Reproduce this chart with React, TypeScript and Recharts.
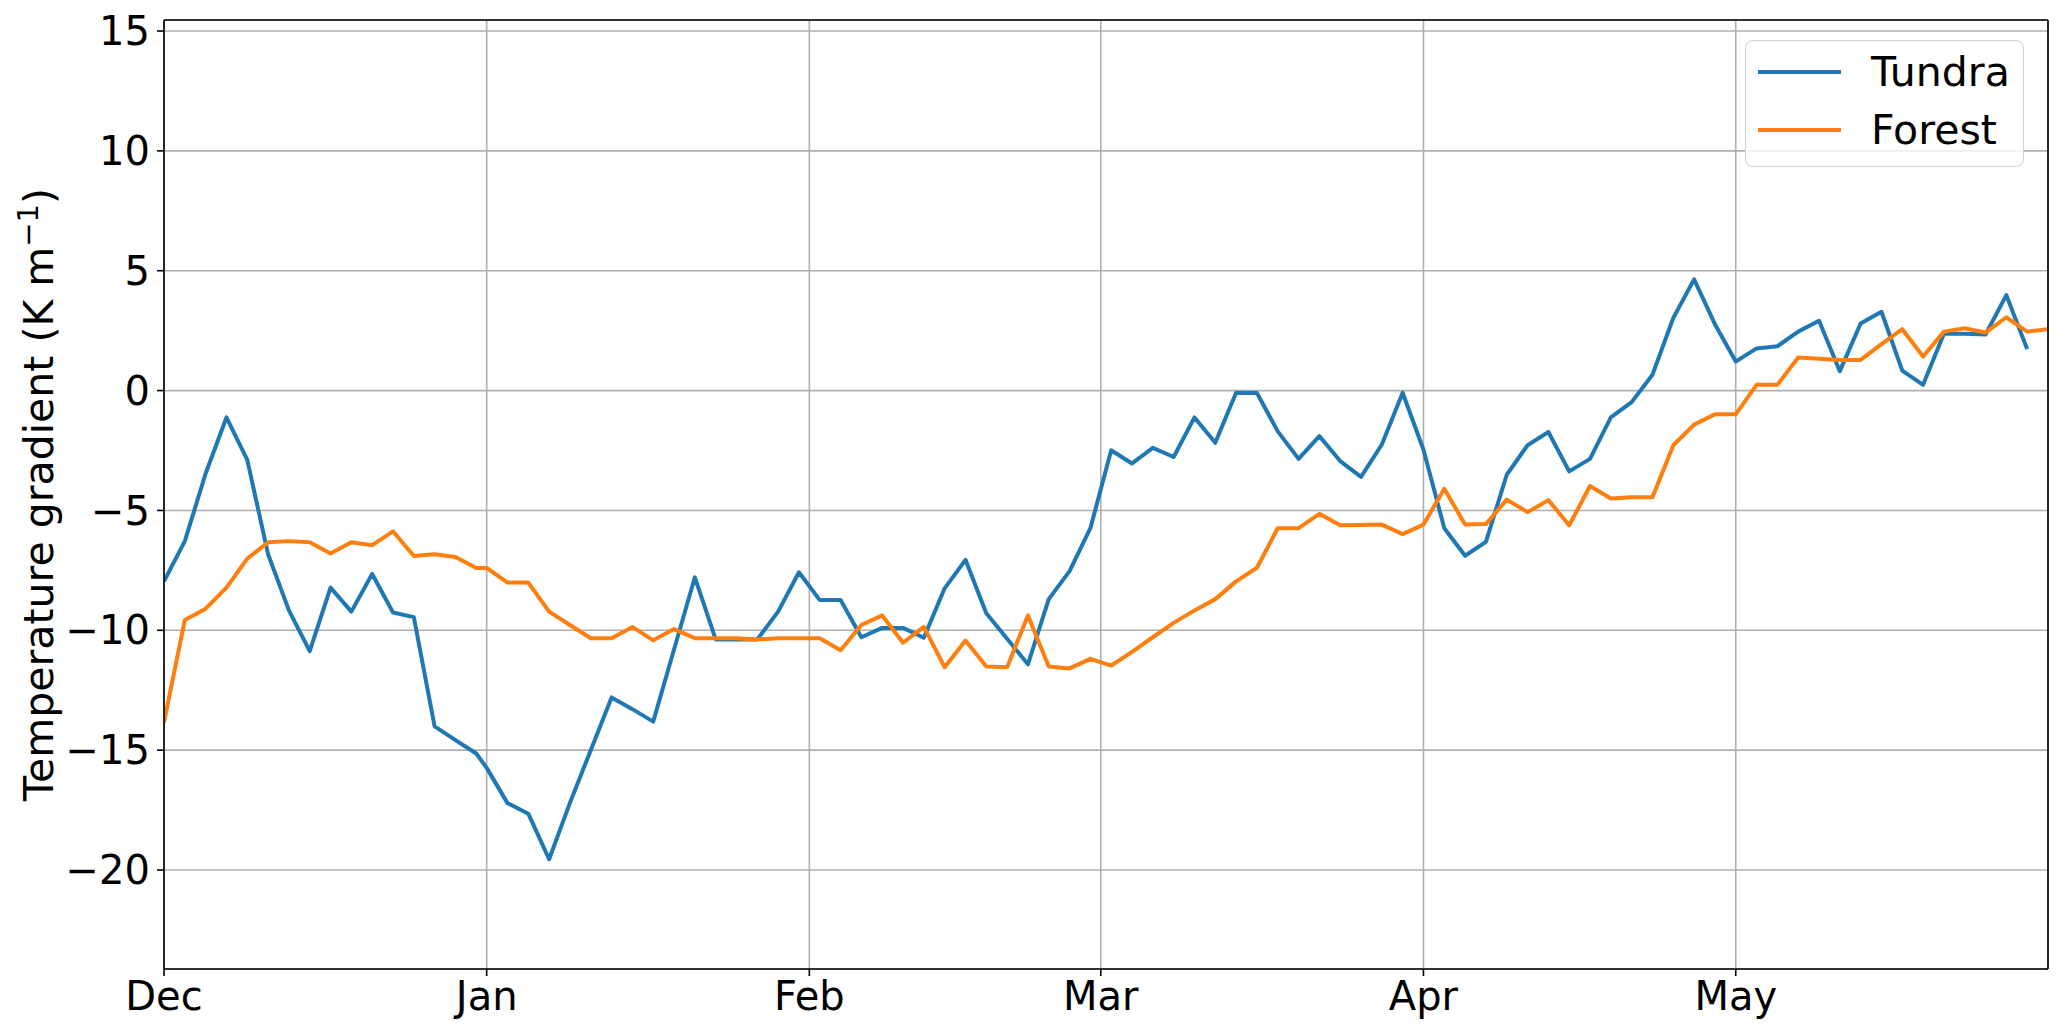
import React from 'react';
import { LineChart, Line, XAxis, YAxis, CartesianGrid, Legend, ReferenceLine } from 'recharts';

// days since 1 Dec (every other day-of-year, so 31 Dec and 1 Jan both appear)
const days = [
  0, 2, 4, 6, 8, 10, 12, 14, 16, 18, 20, 22, 24, 26, 28, 30,
  31, 33, 35, 37, 39, 41, 43, 45, 47, 49, 51, 53, 55, 57, 59, 61,
  63, 65, 67, 69, 71, 73, 75, 77, 79, 81, 83, 85, 87, 89,
  91, 93, 95, 97, 99, 101, 103, 105, 107, 109, 111, 113, 115, 117, 119,
  121, 123, 125, 127, 129, 131, 133, 135, 137, 139, 141, 143, 145, 147, 149,
  151, 153, 155, 157, 159, 161, 163, 165, 167, 169, 171, 173, 175, 177, 179, 181,
];

const tundra = [
  -7.96, -6.28, -3.46, -1.12, -2.89, -6.83, -9.17, -10.87, -8.22, -9.22, -7.65, -9.26, -9.45, -14.01, -14.58, -15.14,
  -15.74, -17.21, -17.65, -19.55, -17.2, -15.0, -12.8, -13.29, -13.81, -10.8, -7.79, -10.38, -10.38, -10.38, -9.22, -7.58,
  -8.74, -8.74, -10.29, -9.9, -9.9, -10.31, -8.25, -7.06, -9.29, -10.35, -11.42, -8.7, -7.53, -5.74,
  -2.49, -3.04, -2.39, -2.77, -1.12, -2.18, -0.09, -0.1, -1.7, -2.85, -1.9, -2.94, -3.6, -2.25, -0.09,
  -2.47, -5.74, -6.89, -6.31, -3.51, -2.28, -1.73, -3.37, -2.85, -1.12, -0.48, 0.66, 3.03, 4.64, 2.77,
  1.21, 1.76, 1.85, 2.46, 2.91, 0.81, 2.8, 3.29, 0.83, 0.24, 2.37, 2.37, 2.34, 3.98, 1.73, null,
];

const forest = [
  -13.84, -9.57, -9.1, -8.22, -7.01, -6.33, -6.28, -6.33, -6.8, -6.33, -6.45, -5.87, -6.9, -6.83, -6.94, -7.4,
  -7.4, -8.01, -8.01, -9.22, -9.78, -10.33, -10.33, -9.86, -10.42, -9.95, -10.33, -10.33, -10.33, -10.38, -10.33, -10.33,
  -10.33, -10.83, -9.78, -9.38, -10.52, -9.86, -11.54, -10.43, -11.51, -11.54, -9.38, -11.51, -11.59, -11.19,
  -11.47, -10.9, -10.29, -9.69, -9.17, -8.7, -7.96, -7.39, -5.74, -5.74, -5.14, -5.62, -5.61, -5.59, -5.99,
  -5.59, -4.1, -5.59, -5.57, -4.55, -5.07, -4.57, -5.62, -3.98, -4.5, -4.45, -4.45, -2.28, -1.42, -0.99,
  -0.99, 0.24, 0.24, 1.38, 1.33, 1.28, 1.28, 1.94, 2.56, 1.42, 2.46, 2.6, 2.42, 3.06, 2.46, 2.56,
];

const seriesOrder = ['Tundra', 'Forest'];
const monthTicks = [0, 31, 62, 90, 121, 151];
const monthLabels = ['Dec', 'Jan', 'Feb', 'Mar', 'Apr', 'May'];
const yTicks = [-20, -15, -10, -5, 0, 5, 10, 15];

const data = days.map((day, i) => ({ day, tundra: tundra[i], forest: forest[i] }));

const FONT = 'DejaVu Sans';
const tickStyle = { fill: '#000', fontSize: 40, fontFamily: FONT };

const xFormatter = (v: number) => monthLabels[monthTicks.indexOf(v)] ?? '';
const yFormatter = (v: number) => (v < 0 ? `\u2212${-v}` : `${v}`);

const YLabel = ({ viewBox }: any) => {
  const cy = viewBox.y + viewBox.height / 2;
  return (
    <text
      x={53}
      y={cy}
      transform={`rotate(-90, 53, ${cy})`}
      textAnchor="middle"
      fontSize={41}
      fontFamily={FONT}
      fill="#000"
    >
      <tspan>Temperature gradient (K m</tspan>
      <tspan dy={-15} fontSize={29}>{'\u22121'}</tspan>
      <tspan dy={15}>)</tspan>
    </text>
  );
};

const renderLegend = ({ payload }: any) => {
  const items = [...(payload || [])].sort(
    (a: any, b: any) => seriesOrder.indexOf(a.value) - seriesOrder.indexOf(b.value)
  );
  return (
    <div
      style={{
        width: 279,
        height: 127,
        boxSizing: 'border-box',
        border: '1.6px solid #d0d0d0',
        borderRadius: 8,
        background: 'rgba(255,255,255,0.8)',
      }}
    >
      <svg width={276} height={124}>
        {items.map((p: any, i: number) => (
          <g key={p.value}>
            <line x1={12} x2={95} y1={31 + i * 58} y2={31 + i * 58} stroke={p.color} strokeWidth={4} />
            <text x={125} y={31 + i * 58} dominantBaseline="central" fontSize={41} fontFamily={FONT} fill="#000">
              {p.value}
            </text>
          </g>
        ))}
      </svg>
    </div>
  );
};

const App = () => (
  <div style={{ position: 'absolute', left: 0, top: 0, width: 2067, height: 1036, background: '#fff' }}>
    <LineChart width={2067} height={1036} data={data} margin={{ top: 20, right: 19, bottom: 0, left: 14 }}>
      <CartesianGrid stroke="#b0b0b0" strokeWidth={1.6} />
      <XAxis
        dataKey="day"
        type="number"
        domain={[0, 181]}
        ticks={monthTicks}
        interval={0}
        tickFormatter={xFormatter}
        height={67}
        tickSize={7}
        tickMargin={6}
        tick={tickStyle}
        tickLine={{ stroke: '#000', strokeWidth: 1.6 }}
        axisLine={{ stroke: '#000', strokeWidth: 1.6 }}
        allowDataOverflow
      />
      <YAxis
        type="number"
        domain={[-24.13, 15.46]}
        ticks={yTicks}
        interval={0}
        tickFormatter={yFormatter}
        width={150}
        tickSize={7}
        tickMargin={7}
        tick={tickStyle}
        tickLine={{ stroke: '#000', strokeWidth: 1.6 }}
        axisLine={{ stroke: '#000', strokeWidth: 1.6 }}
        allowDataOverflow
        label={<YLabel />}
      />
      <Legend
        layout="vertical"
        align="center"
        verticalAlign="middle"
        content={renderLegend}
        wrapperStyle={{ position: 'absolute', left: 1745, top: 40, width: 279, height: 127 }}
      />
      <Line
        type="linear"
        dataKey="tundra"
        name="Tundra"
        stroke="#1f77b4"
        strokeWidth={4}
        strokeLinejoin="round"
        dot={false}
        activeDot={false}
        isAnimationActive={false}
      />
      <Line
        type="linear"
        dataKey="forest"
        name="Forest"
        stroke="#ff7f0e"
        strokeWidth={4}
        strokeLinejoin="round"
        dot={false}
        activeDot={false}
        isAnimationActive={false}
      />
      <ReferenceLine x={181} stroke="#000" strokeWidth={1.6} />
      <ReferenceLine y={15.46} stroke="#000" strokeWidth={1.6} />
    </LineChart>
  </div>
);

export default App;
